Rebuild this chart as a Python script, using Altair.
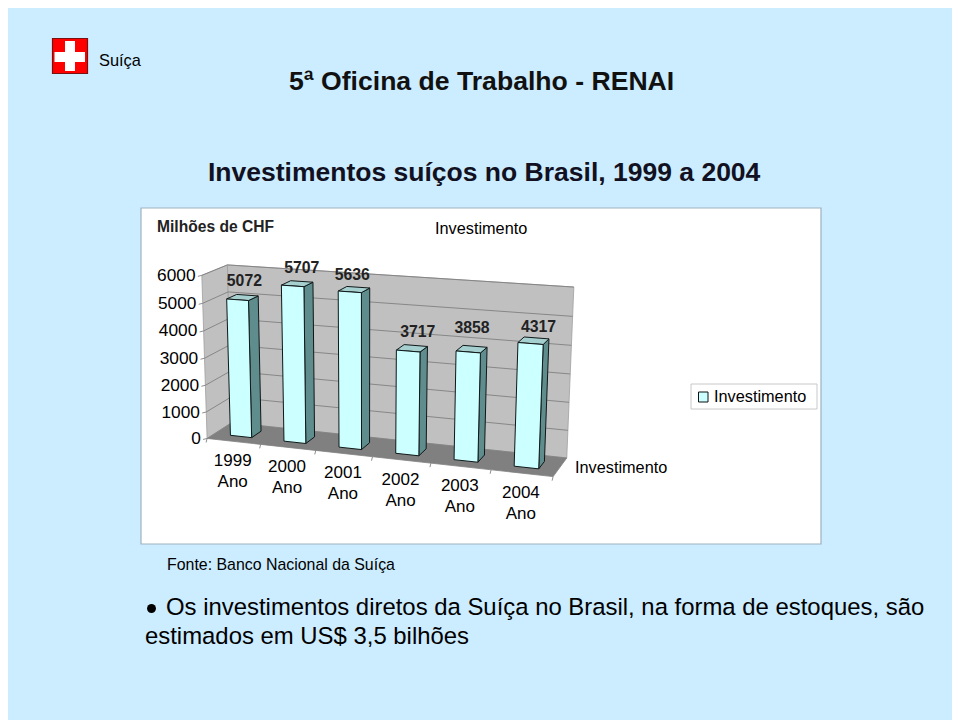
import altair as alt
import numpy as np
import pandas as pd

# ---- chart values
YEARS = ["1999", "2000", "2001", "2002", "2003", "2004"]
VALUES = [5072, 5707, 5636, 3717, 3858, 4317]
VALUE_TICKS = [0, 1000, 2000, 3000, 4000, 5000, 6000]
VMAX = 6000.0
GAP = 0.3  # Excel gap width 150 %: bar takes the middle 40 % of its slot

# ---- camera calibration: the corners of the 3D box on the page
BOX_WORLD = [(0, 0, 0), (1, 0, 0), (0, 1, 0), (1, 1, 0),
             (0, 0, 1), (1, 0, 1), (0, 1, 1), (1, 1, 1)]
BOX_PAGE = [(208, 437.3), (553.3, 477.7), (230.7, 424), (566.7, 456.7),
            (201, 274.3), (559.7, 300.7), (228.3, 265.7), (574, 286)]

A, b = [], []
for (X, Y, Z), (px, py) in zip(BOX_WORLD, BOX_PAGE):
    A.append([X, Y, Z, 1, 0, 0, 0, 0, -px * X, -px * Y, -px * Z]); b.append(px)
    A.append([0, 0, 0, 0, X, Y, Z, 1, -py * X, -py * Y, -py * Z]); b.append(py)
P = np.linalg.lstsq(np.array(A, float), np.array(b, float), rcond=None)[0]


def proj(u, d, v):
    z = v / VMAX
    w = P[8] * u + P[9] * d + P[10] * z + 1
    return ((P[0] * u + P[1] * d + P[2] * z + P[3]) / w,
            (P[4] * u + P[5] * d + P[6] * z + P[7]) / w)


pid = 0


def add(rows, face, corners):
    global pid
    pid += 1
    for i, c in enumerate(list(corners) + [corners[0]]):
        x, y = proj(*c)
        rows.append({"x": x, "y": y, "i": i, "poly": pid, "face": face})


wall_rows, bar_rows = [], []
add(wall_rows, "wall", [(0, 0, 0), (0, 1, 0), (0, 1, VMAX), (0, 0, VMAX)])
add(wall_rows, "wall", [(0, 1, 0), (1, 1, 0), (1, 1, VMAX), (0, 1, VMAX)])
add(wall_rows, "floor", [(0, 0, 0), (1, 0, 0), (1, 1, 0), (0, 1, 0)])

n = len(VALUES)
for k, val in enumerate(VALUES):
    u0, u1 = (k + GAP) / n, (k + 1 - GAP) / n
    d0, d1 = GAP, 1 - GAP
    add(bar_rows, "side", [(u1, d0, 0), (u1, d1, 0), (u1, d1, val), (u1, d0, val)])
    add(bar_rows, "top", [(u0, d0, val), (u1, d0, val), (u1, d1, val), (u0, d1, val)])
    add(bar_rows, "front", [(u0, d0, 0), (u1, d0, 0), (u1, d0, val), (u0, d0, val)])

grid = []
for v in VALUE_TICKS:
    a, b_, c = proj(0, 0, v), proj(0, 1, v), proj(1, 1, v)
    grid.append({"x": a[0] - 4, "y": a[1] + 1, "x2": a[0], "y2": a[1]})
    if 0 < v:
        grid.append({"x": a[0], "y": a[1], "x2": b_[0], "y2": b_[1]})
        grid.append({"x": b_[0], "y": b_[1], "x2": c[0], "y2": c[1]})
for k in range(n + 1):
    a = proj(k / n, 0, 0)
    grid.append({"x": a[0], "y": a[1], "x2": a[0] - 1, "y2": a[1] + 4})

# Excel placed its data labels by hand-free auto layout: small shifts off the bar tops
NUDGE_X = [-3, 0, -6, 2, -3, 2]
NUDGE_Y = [-14, -13, -12, -14, -18, -11]

value_labels = pd.DataFrame([
    {"x": proj(0, 0, v)[0] - 6.3, "y": proj(0, 0, v)[1] + 0.5, "t": str(v)} for v in VALUE_TICKS])
bar_labels = pd.DataFrame([
    {"x": proj((k + .5) / n, 1 - GAP, v)[0] + NUDGE_X[k], "y": proj((k + .5) / n, 1 - GAP, v)[1] + NUDGE_Y[k], "t": str(v)}
    for k, v in enumerate(VALUES)])
year_labels = pd.DataFrame(
    [{"x": proj((k + .5) / n, 0, 0)[0] - 1, "y": proj((k + .5) / n, 0, 0)[1] + 19.5 + k * .1, "t": y}
     for k, y in enumerate(YEARS)] +
    [{"x": proj((k + .5) / n, 0, 0)[0] - 1, "y": proj((k + .5) / n, 0, 0)[1] + 40.5 + k * .1, "t": "Ano"}
     for k, y in enumerate(YEARS)])

# ---- page
W, H = 944, 712
SX = alt.Scale(domain=[8, 952], range=[0, W])
SY = alt.Scale(domain=[720, 8], range=[H, 0])
FACES = ["wall", "floor", "side", "top", "front"]
FILLS = ["#C0C0C0", "#808080", "#5F8C8C", "#A6CFCF", "#CCFFFF"]
STROKES = ["#A0A0A0", "#808080", "#101818", "#101818", "#101818"]
FONT = "Liberation Sans"


def XE(f="x"):
    return alt.X(f"{f}:Q", scale=SX, axis=None)


def YE(f="y"):
    return alt.Y(f"{f}:Q", scale=SY, axis=None)


def rect(x, y, x2, y2, **kw):
    return alt.Chart(pd.DataFrame({"x": [x], "y": [y], "x2": [x2], "y2": [y2]})).mark_rect(**kw).encode(
        x=XE(), y=YE(), x2="x2:Q", y2="y2:Q")


def polyg(rows, sw):
    return alt.Chart(pd.DataFrame(rows)).mark_line(strokeWidth=sw, fill="#fff").encode(
        x=XE(), y=YE(), order=alt.Order("i:Q"), detail="poly:N",
        fill=alt.Fill("face:N", scale=alt.Scale(domain=FACES, range=FILLS), legend=None),
        stroke=alt.Stroke("face:N", scale=alt.Scale(domain=FACES, range=STROKES), legend=None))


def texts(df, size, weight="normal", align="center", color="#000000"):
    return alt.Chart(df).mark_text(font=FONT, fontSize=size, fontWeight=weight, align=align,
                                   baseline="middle", color=color).encode(x=XE(), y=YE(), text="t:N")


def label(s, x, y, size, weight="normal", align="left", color="#000000"):
    return texts(pd.DataFrame({"x": [x], "y": [y], "t": [s]}), size, weight, align, color)


layers = [
    rect(141, 208, 821, 544, fill="#FFFFFF", stroke="#9DB2C0", strokeWidth=1.2),
    rect(52.5, 38.5, 87.5, 73.5, fill="#FF0000", stroke="#7A1010", strokeWidth=1.2),
    rect(65, 41, 75, 71, fill="#FFFFFF"),
    rect(54.5, 52, 85, 62, fill="#FFFFFF"),
    polyg(wall_rows, 0.8),
    alt.Chart(pd.DataFrame(grid)).mark_rule(color="#808080", strokeWidth=0.9).encode(
        x=XE(), y=YE(), x2="x2:Q", y2="y2:Q"),
    polyg(bar_rows, 1.0),
    rect(691, 384, 817, 409, fill="#FFFFFF", stroke="#C8C8C8", strokeWidth=1),
    rect(698.5, 392, 708, 402, fill="#CCFFFF", stroke="#101010", strokeWidth=1),
    texts(value_labels, 17.3, align="right"),
    texts(bar_labels, 15.8, weight="bold", color="#222222"),
    texts(year_labels, 17),
    label("Suíça", 99, 60.5, 16.4),
    label("5ª Oficina de Trabalho - RENAI", 289, 82, 26.6, "bold", color="#111111"),
    label("Investimentos suíços no Brasil, 1999 a 2004", 208, 173, 26.5, "bold", color="#111122"),
    label("Milhões de CHF", 157, 227, 15.6, "bold", color="#222222"),
    label("Investimento", 435, 229, 16.3),
    label("Investimento", 575, 468, 16.3),
    label("Investimento", 714, 397, 16.3),
    label("Fonte: Banco Nacional da Suíça", 167, 565, 15.9),
    label("Os investimentos diretos da Suíça no Brasil, na forma de estoques, são", 166, 608, 23.9),
    label("estimados em US$ 3,5 bilhões", 145, 637, 23.9),
    alt.Chart(pd.DataFrame({"x": [151.5], "y": [608.5]})).mark_circle(size=80, color="#000000", opacity=1).encode(
        x=XE(), y=YE()),
]

chart = alt.layer(*layers).properties(
    width=W, height=H, background="#CCECFF", padding=0, autosize=alt.AutoSizeParams(type="none")
).configure_view(stroke=None)

chart.save("out.html", embed_options={"renderer": "svg", "actions": False})
